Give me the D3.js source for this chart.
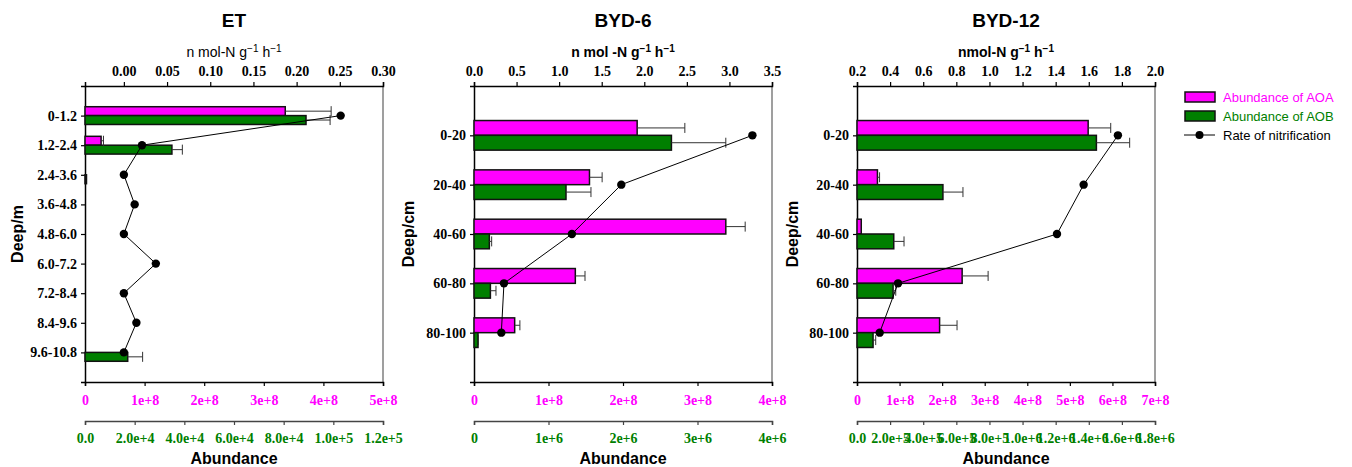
<!DOCTYPE html>
<html><head><meta charset="utf-8">
<script src="https://cdn.jsdelivr.net/npm/d3@7"></script>
<style>body{margin:0;background:#fff}svg{display:block}</style>
</head><body>
<svg id="c" width="1352" height="467"></svg>
<script>
// ---------- data ----------
const etCats = ["0-1.2","1.2-2.4","2.4-3.6","3.6-4.8","4.8-6.0","6.0-7.2","7.2-8.4","8.4-9.6","9.6-10.8"];
const etAOA = [3.36e8, 0.27e8, 0, 0, 0, 0, 0, 0, 0];
const etAOAErr = [0.77e8, 0.04e8, 0, 0, 0, 0, 0, 0, 0];
const etAOB = [8.9e4, 3.5e4, 600, 0, 0, 0, 0, 0, 1.72e4];
const etAOBErr = [0.97e4, 0.42e4, 0, 0, 0, 0, 0, 0, 0.6e4];
const etRate = [0.251, 0.021, 0.0, 0.0125, 0.0, 0.037, 0.0, 0.0145, 0.0];

const b6Cats = ["0-20","20-40","40-60","60-80","80-100"];
const b6AOA = [2.19e8, 1.55e8, 3.38e8, 1.36e8, 0.546e8];
const b6AOAErr = [0.64e8, 0.17e8, 0.26e8, 0.13e8, 0.07e8];
const b6AOB = [2.65e6, 1.235e6, 0.206e6, 0.22e6, 0.054e6];
const b6AOBErr = [0.73e6, 0.335e6, 0.031e6, 0.075e6, 0.006e6];
const b6Rate = [3.27, 1.73, 1.15, 0.352, 0.321];

const b12Cats = ["0-20","20-40","40-60","60-80","80-100"];
const b12AOA = [5.43e8, 0.48e8, 0.1e8, 2.47e8, 1.94e8];
const b12AOAErr = [0.53e8, 0.05e8, 0, 0.61e8, 0.41e8];
const b12AOB = [1.446e6, 0.519e6, 0.222e6, 0.218e6, 0.097e6];
const b12AOBErr = [0.201e6, 0.121e6, 0.062e6, 0.016e6, 0.016e6];
const b12Rate = [1.776, 1.569, 1.408, 0.448, 0.337];

const etTopTicks = [0, 0.05, 0.10, 0.15, 0.20, 0.25, 0.30];
const b6TopTicks = [0, 0.5, 1.0, 1.5, 2.0, 2.5, 3.0, 3.5];
const b12TopTicks = [0.2, 0.4, 0.6, 0.8, 1.0, 1.2, 1.4, 1.6, 1.8, 2.0];
const etAOATicks = [0, 1e8, 2e8, 3e8, 4e8, 5e8];
const b6AOATicks = [0, 1e8, 2e8, 3e8, 4e8];
const b12AOATicks = [0, 1e8, 2e8, 3e8, 4e8, 5e8, 6e8, 7e8];
const etAOBTicks = [0, 2e4, 4e4, 6e4, 8e4, 1e5, 1.2e5];
const b6AOBTicks = [0, 1e6, 2e6, 3e6, 4e6];
const b12AOBTicks = [0, 2e5, 4e5, 6e5, 8e5, 1e6, 1.2e6, 1.4e6, 1.6e6, 1.8e6];

// ---------- config ----------
const MAG = "#ff00ff", GRN = "#007f00";
const panels = [
  {title:"ET", unit:["n mol-N g","h"], unitBold:false, ylab:"Deep/m", cats:etCats, aoa:etAOA, aoaE:etAOAErr, aob:etAOB, aobE:etAOBErr, rate:etRate,
   left:85, right:383, topDom:[-0.045,0.30], topTicks:etTopTicks, topFmt:d3.format(".2f"),
   aoaDom:[0,5e8], aoaTicks:etAOATicks, aobDom:[0,1.2e5], aobTicks:etAOBTicks, aobFmt:d=>d===0?"0.0":d.toExponential(1), ylabX:17},
  {title:"BYD-6", unit:["n mol -N g","h"], unitBold:true, ylab:"Deep/cm", cats:b6Cats, aoa:b6AOA, aoaE:b6AOAErr, aob:b6AOB, aobE:b6AOBErr, rate:b6Rate,
   left:474, right:772, topDom:[0,3.5], topTicks:b6TopTicks, topFmt:d3.format(".1f"),
   aoaDom:[0,4e8], aoaTicks:b6AOATicks, aobDom:[0,4e6], aobTicks:b6AOBTicks, aobFmt:d=>d===0?"0":d.toExponential(0), ylabX:408},
  {title:"BYD-12", unit:["nmol-N g","h"], unitBold:true, ylab:"Deep/cm", cats:b12Cats, aoa:b12AOA, aoaE:b12AOAErr, aob:b12AOB, aobE:b12AOBErr, rate:b12Rate,
   left:857, right:1155, topDom:[0.2,2.0], topTicks:b12TopTicks, topFmt:d3.format(".1f"),
   aoaDom:[0,7e8], aoaTicks:b12AOATicks, aobDom:[0,1.8e6], aobTicks:b12AOBTicks, aobFmt:d=>d===0?"0.0":d.toExponential(1), ylabX:792}
];
const TOP = 86, BOT = 382, GAXIS = 421;
const serif = "'Liberation Serif','Times New Roman',serif";
const sans = "'Liberation Sans',Arial,sans-serif";
const svg = d3.select("#c");

panels.forEach(p => {
  const g = svg.append("g");
  const n = p.cats.length;
  const y = d3.scaleLinear().domain([0, n + 1]).range([TOP, BOT]);
  const step = y(1) - y(0);
  const bh = step * 0.3;
  const xTop = d3.scaleLinear().domain(p.topDom).range([p.left, p.right]);
  const xA = d3.scaleLinear().domain(p.aoaDom).range([p.left, p.right]);
  const xB = d3.scaleLinear().domain(p.aobDom).range([p.left, p.right]);
  const cx = (p.left + p.right) / 2;

  // title
  g.append("text").attr("x", cx).attr("y", 27).attr("text-anchor","middle")
    .style("font-family", sans).style("font-weight","bold").style("font-size","19px").text(p.title);
  // unit label
  const ut = g.append("text").attr("x", cx).attr("y", 57).attr("text-anchor","middle")
    .style("font-family", sans).style("font-size","14px").style("font-weight", p.unitBold ? "bold" : "normal");
  ut.append("tspan").text(p.unit[0]);
  ut.append("tspan").attr("dy",-5).style("font-size","10px").text("\u22121");
  ut.append("tspan").attr("dy",5).text(" " + p.unit[1]);
  ut.append("tspan").attr("dy",-5).style("font-size","10px").text("\u22121");

  // right border (gray)
  g.append("line").attr("x1", p.right).attr("x2", p.right).attr("y1", TOP).attr("y2", BOT)
    .attr("stroke","#7f7f7f").attr("stroke-width",1.5);

  // top axis
  const ta = g.append("g").attr("transform",`translate(0,${TOP})`)
    .call(d3.axisTop(xTop).tickValues(p.topTicks).tickFormat(p.topFmt).tickSizeOuter(0).tickSize(4).tickPadding(6));
  // left axis
  const la = g.append("g").attr("transform",`translate(${p.left},0)`)
    .call(d3.axisLeft(y).tickValues(d3.range(1, n + 1)).tickFormat(i => p.cats[i - 1]).tickSizeOuter(0).tickSize(4).tickPadding(4));
  // bottom AOA axis
  const ba = g.append("g").attr("transform",`translate(0,${BOT})`)
    .call(d3.axisBottom(xA).tickValues(p.aoaTicks).tickFormat(d => d === 0 ? "0" : d.toExponential(0)).tickSizeOuter(0).tickSize(4).tickPadding(9));
  ba.selectAll(".tick text").attr("fill", MAG);
  // bottom AOB axis
  const bb = g.append("g").attr("transform",`translate(0,${GAXIS})`)
    .call(d3.axisBottom(xB).tickValues(p.aobTicks).tickFormat(p.aobFmt).tickSizeOuter(0).tickSize(4).tickPadding(8));
  bb.selectAll(".tick text").attr("fill", GRN);
  bb.select(".domain").attr("stroke","#444");
  bb.selectAll(".tick line").attr("stroke","#444");

  [ta, la, ba, bb].forEach(a => {
    a.selectAll(".tick text").style("font-family", serif).style("font-weight","bold").style("font-size","14px");
    a.select(".domain").attr("stroke-width",1.5);
    a.selectAll(".tick line").attr("stroke-width",1.2);
  });

  // x axis title
  g.append("text").attr("x", cx).attr("y", 464).attr("text-anchor","middle")
    .style("font-family", sans).style("font-weight","bold").style("font-size","16px").text("Abundance");
  // y axis title
  g.append("text").attr("transform",`translate(${p.ylabX},${(TOP+BOT)/2}) rotate(-90)`).attr("text-anchor","middle")
    .attr("dy","0.35em").style("font-family", sans).style("font-weight","bold").style("font-size","16px").text(p.ylab);

  const idx = d3.range(n);
  // bars
  g.selectAll(".aoa").data(idx.filter(i => p.aoa[i] > 0)).join("rect")
    .attr("x", p.left).attr("y", i => y(i + 1) - bh).attr("width", i => xA(p.aoa[i]) - p.left).attr("height", bh)
    .attr("fill", MAG).attr("stroke","#111").attr("stroke-width",1.5);
  g.selectAll(".aob").data(idx.filter(i => p.aob[i] > 0)).join("rect")
    .attr("x", p.left).attr("y", i => y(i + 1)).attr("width", i => xB(p.aob[i]) - p.left).attr("height", bh)
    .attr("fill", GRN).attr("stroke","#111").attr("stroke-width",1.5);

  // error bars
  function err(vals, errs, sc, off) {
    idx.filter(i => errs[i] > 0).forEach(i => {
      const yy = y(i + 1) + off, x0 = sc(vals[i]), x1 = sc(vals[i] + errs[i]);
      g.append("line").attr("x1", x0).attr("x2", x1).attr("y1", yy).attr("y2", yy).attr("stroke","#333").attr("stroke-width",1);
      g.append("line").attr("x1", x1).attr("x2", x1).attr("y1", yy - 5).attr("y2", yy + 5).attr("stroke","#333").attr("stroke-width",1);
    });
  }
  err(p.aoa, p.aoaE, xA, -bh / 2);
  err(p.aob, p.aobE, xB, bh / 2);

  // rate line
  const line = d3.line().x(i => xTop(p.rate[i])).y(i => y(i + 1));
  g.append("path").attr("d", line(idx)).attr("fill","none").attr("stroke","#000").attr("stroke-width",1);
  g.selectAll(".pt").data(idx).join("circle")
    .attr("cx", i => xTop(p.rate[i])).attr("cy", i => y(i + 1)).attr("r", 4.2).attr("fill","#000");
});

// legend
const lg = svg.append("g").style("font-family", sans).style("font-size","13px");
const legItems = [{t:"Abundance of AOA", c:MAG, type:"box"},{t:"Abundance of AOB", c:GRN, type:"box"},{t:"Rate of nitrification", c:"#000", type:"line"}];
legItems.forEach((d, i) => {
  const yy = 97 + i * 19;
  if (d.type === "box") {
    lg.append("rect").attr("x",1185).attr("y",yy-5).attr("width",30).attr("height",10).attr("fill",d.c).attr("stroke","#111").attr("stroke-width",1.5);
  } else {
    lg.append("line").attr("x1",1184).attr("x2",1215).attr("y1",yy).attr("y2",yy).attr("stroke","#000").attr("stroke-width",1);
    lg.append("circle").attr("cx",1199.5).attr("cy",yy).attr("r",4).attr("fill","#000");
  }
  lg.append("text").attr("x",1223).attr("y",yy).attr("dy","0.35em").attr("fill",d.c).text(d.t);
});
</script>
</body></html>
